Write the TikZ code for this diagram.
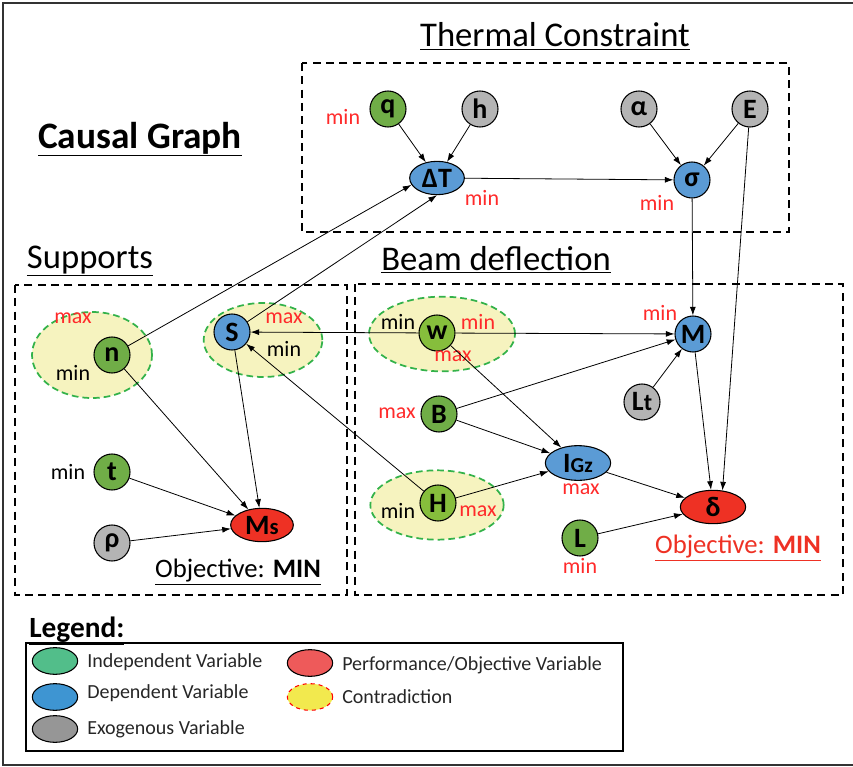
\documentclass[tikz,border=0pt]{standalone}
\usepackage{fontspec}
\setmainfont{Carlito}
\usepackage{xcolor}
\usepackage{tikz}
\usetikzlibrary{shapes.geometric,arrows.meta}
\newcommand{\fsz}[1]{\fontsize{#1}{#1}\selectfont}
\definecolor{indep}{HTML}{70AD47}
\definecolor{indepL}{HTML}{86BE3C}
\definecolor{dep}{HTML}{5B9BD5}
\definecolor{exo}{HTML}{B4B4B4}
\definecolor{perf}{HTML}{EE3124}
\definecolor{contra}{HTML}{F6F3BF}
\definecolor{contraB}{HTML}{33B24A}
\definecolor{minmax}{HTML}{FF2A2A}
\definecolor{legIndep}{HTML}{52BE8A}
\definecolor{legDep}{HTML}{3E95D2}
\definecolor{legExo}{HTML}{969696}
\definecolor{legPerf}{HTML}{EE5A5A}
\definecolor{legContra}{HTML}{F2E94E}

\begin{document}
\begin{tikzpicture}[x=0.75pt, y=-0.75pt,
    var/.style={circle, draw, line width=0.8pt, minimum size=27pt, inner sep=0pt,
                font=\fsz{21}\bfseries},
    evar/.style={ellipse, draw, line width=0.8pt, minimum width=47pt, minimum height=25pt,
                 inner sep=0pt, font=\fsz{21}\bfseries},
    contra/.style={ellipse, draw=contraB, dash pattern=on 5pt off 3pt, line width=1.3pt,
                   fill=contra, inner sep=0pt},
    lbl/.style={font=\fsz{16.5}, text=minmax, inner sep=0pt},
    lblk/.style={lbl, text=black},
    arrow/.style={->, >={Latex[length=6.5pt,width=4.5pt]}, line width=0.6pt},
    group/.style={draw, dash pattern=on 6pt off 4pt, line width=0.8pt},
    title/.style={font=\fsz{26}, anchor=base, inner sep=0pt},
    key/.style={ellipse, draw, line width=0.8pt, minimum width=34pt, minimum height=20pt, inner sep=0pt},
    keytxt/.style={font=\fsz{15}, anchor=west, inner sep=0pt, text=black!85}
  ]
    \useasboundingbox (0,0) rectangle (853,767);
    \draw[line width=2pt, black!80] (853,3) -- (3,3) -- (3,765) -- (853,765);

    % titles and groups
    \node[title, font=\fsz{28}\bfseries] (causal) at (140,148) {\underline{Causal Graph}};
    \node[title] (thermal) at (555,47) {\underline{Thermal Constraint}};
    \node[title] (supports) at (90,268) {\underline{Supports}};
    \node[title] (beam) at (496,270) {\underline{Beam deflection}};
    \draw[group] (302,63) rectangle (789,232);
    \draw[group] (15,285) rectangle (347,595);
    \draw[group] (355,284) rectangle (843,595);

    % contradictions
    \node[contra, minimum width=90pt, minimum height=64.5pt] (nC) at (92,355) {};
    \node[contra, minimum width=89pt, minimum height=55.5pt] (sC) at (263,340) {};
    \node[contra, minimum width=109.5pt, minimum height=56pt] (wC) at (442,334) {};
    \node[contra, minimum width=100pt, minimum height=52pt] (hC) at (437,505) {};

    % thermal constraint
    \node[var, fill=indep] (q) at (388,109) {q};
    \node[var, fill=exo] (h) at (480,109) {h};
    \node[var, fill=exo] (alpha) at (639,109) {α};
    \node[var, fill=exo] (E) at (750,109) {E};
    \node[evar, minimum width=41pt, fill=dep] (dT) at (437,178) {ΔT};
    \node[var, fill=dep] (sigma) at (692,180) {σ};

    % supports
    \node[var, fill=indep] (n) at (112,355) {n};
    \node[var, fill=dep] (S) at (232,332) {S};
    \node[var, fill=indep] (t) at (112,472) {t};
    \node[var, fill=exo] (rho) at (112,543) {ρ};
    \node[evar, fill=perf] (Ms) at (262,525) {M{\fsz{17}s}};

    % beam deflection
    \node[var, fill=indepL] (w) at (437,333) {w};
    \node[var, fill=dep] (M) at (693,334) {M};
    \node[var, fill=exo] (Lt) at (642,402) {L{\fsz{18}t}};
    \node[var, fill=indep] (B) at (439,414) {B};
    \node[evar, minimum width=49pt, minimum height=26pt, fill=dep] (IGz) at (578,463) {I{\fsz{16}Gz}};
    \node[var, fill=indepL] (H) at (438,503) {H};
    \node[evar, minimum width=49pt, fill=perf] (delta) at (713,507) {δ};
    \node[var, fill=indep] (L) at (580,538) {L};

    % min / max
    \node[lbl] (qmin) at (343,117) {min};
    \node[lbl] (dTmin) at (482,198) {min};
    \node[lbl] (sigmin) at (657,203) {min};
    \node[lbl] (nmax) at (73,318) {max};
    \node[lblk] (nmin) at (73,373) {min};
    \node[lbl] (Smax) at (284,318) {max};
    \node[lblk] (Smin) at (284,349) {min};
    \node[lblk] (tmin) at (68,472) {min};
    \node[lblk] (wmin) at (398,322) {min};
    \node[lbl] (wmin2) at (478,322) {min};
    \node[lbl] (wmax) at (453,356) {max};
    \node[lbl] (Mmin) at (660,313) {min};
    \node[lbl] (Bmax) at (397,413) {max};
    \node[lbl] (IGzmax) at (581,489) {max};
    \node[lblk] (Hmin) at (398,511) {min};
    \node[lbl] (Hmax) at (478,511) {max};
    \node[lbl] (Lmin) at (580,566) {min};
    \node[font=\fsz{20}, inner sep=0pt] (obj1) at (238,572) {\underline{Objective: \textbf{MIN}}};
    \node[font=\fsz{20}, text=perf, inner sep=0pt] (obj2) at (738,548) {\underline{Objective: \textbf{MIN}}};

    % causal links
    \draw[arrow] (q) -- (dT);
    \draw[arrow] (h) -- (dT);
    \draw[arrow] (dT) -- (sigma);
    \draw[arrow] (alpha) -- (sigma);
    \draw[arrow] (E) -- (sigma);
    \draw[arrow] (E) -- (delta.60);
    \draw[arrow] (sigma) -- (M);
    \draw[arrow] (n) -- (dT.195);
    \draw[arrow] (S) -- (dT.south);
    \draw[arrow] (n) -- (Ms);
    \draw[arrow] (S) -- (Ms);
    \draw[arrow] (t) -- (Ms);
    \draw[arrow] (rho) -- (Ms);
    \draw[arrow] (w) -- (S);
    \draw[arrow] (w) -- (M);
    \draw[arrow] (w) -- (IGz);
    \draw[arrow] (B) -- (M);
    \draw[arrow] (B) -- (IGz);
    \draw[arrow] (H) -- (IGz);
    \draw[arrow] (H) -- (S);
    \draw[arrow] (Lt) -- (M);
    \draw[arrow] (M) -- (delta);
    \draw[arrow] (IGz) -- (delta);
    \draw[arrow] (L) -- (delta);

    % legend
    \node[font=\fsz{22}\bfseries, anchor=base west, inner sep=0pt] (legend) at (29,637) {\underline{Legend:}};
    \draw[line width=1.2pt] (26,643) rectangle (623,751);
    \node[key, fill=legIndep] (kIndep) at (55,661) {};
    \node[key, fill=legDep] (kDep) at (55,697) {};
    \node[key, fill=legExo] (kExo) at (55,729) {};
    \node[key, fill=legPerf] (kPerf) at (310,663) {};
    \node[key, draw=red, dashed, fill=legContra] (kContra) at (310,697) {};
    \node[keytxt] (tIndep) at (87,662) {Independent Variable};
    \node[keytxt] (tDep) at (87,693) {Dependent Variable};
    \node[keytxt] (tExo) at (87,729) {Exogenous Variable};
    \node[keytxt] (tPerf) at (342,665) {Performance/Objective Variable};
    \node[keytxt] (tContra) at (342,697) {Contradiction};
  \end{tikzpicture}
\end{document}
